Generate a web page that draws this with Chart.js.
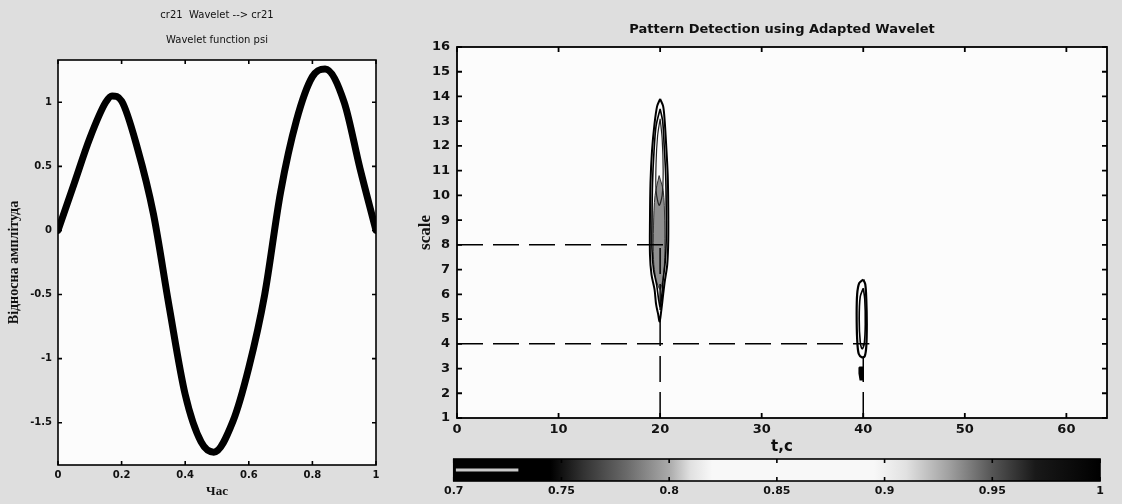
<!DOCTYPE html>
<html>
<head>
<meta charset="utf-8">
<script src="https://cdn.jsdelivr.net/npm/chart.js@4.4.1/dist/chart.umd.min.js"></script>
<style>
  html, body { margin: 0; padding: 0; }
  body { width: 1122px; height: 504px; background: #dedede; position: relative; overflow: hidden; }
  canvas { position: absolute; }
  #wave { left: 0; top: 0; }
  #pattern { left: 410px; top: 0; }
  #cbar { left: 440px; top: 450px; }
</style>
</head>
<body>
<canvas id="wave" width="420" height="504"></canvas>
<canvas id="pattern" width="712" height="460"></canvas>
<canvas id="cbar" width="682" height="54"></canvas>
<script>
// --- left plot: wavelet function psi
const waveTime = [0, 0.05, 0.10, 0.15, 0.17, 0.20, 0.25, 0.30, 0.35, 0.40, 0.45, 0.49,
  0.55, 0.60, 0.65, 0.70, 0.75, 0.80, 0.84, 0.90, 0.95, 1.0];
const waveAmp = [0, 0.36, 0.72, 1.0, 1.05, 1.01, 0.64, 0.13, -0.6, -1.28, -1.65, -1.73,
  -1.49, -1.07, -0.5, 0.3, 0.86, 1.2, 1.26, 1.0, 0.48, 0];
const waveXTicks = [0, 0.2, 0.4, 0.6, 0.8, 1];
const waveYTicks = [-1.5, -1, -0.5, 0, 0.5, 1];

// --- right plot: detected patterns (time, scale)
const markTimes = [20, 40];
const markScales = [8, 4];
const patXTicks = [0, 10, 20, 30, 40, 50, 60];
const patYTicks = [1, 2, 3, 4, 5, 6, 7, 8, 9, 10, 11, 12, 13, 14, 15, 16];

// contour outlines, [t, scale]
const ridge20Outer = [[20.0, 13.9], [20.3, 13.6], [20.45, 13.0], [20.6, 12.0], [20.75, 10.8], [20.8, 9.5],
  [20.8, 8.2], [20.7, 7.2], [20.45, 6.5], [20.3, 6.0], [20.1, 5.3], [19.95, 4.9], [19.8, 5.2], [19.6, 5.6],
  [19.45, 6.2], [19.15, 6.8], [19.0, 7.6], [19.0, 9.0], [19.05, 10.5], [19.2, 11.8], [19.45, 12.9],
  [19.7, 13.6], [20.0, 13.9]];
const ridge20Mid = [[20.0, 13.5], [20.25, 13.0], [20.4, 12.0], [20.55, 10.8], [20.6, 9.5], [20.6, 8.2],
  [20.5, 7.3], [20.3, 6.6], [20.15, 5.9], [20.0, 5.5], [19.85, 5.8], [19.65, 6.4], [19.35, 7.0],
  [19.2, 7.8], [19.2, 9.0], [19.25, 10.5], [19.4, 11.8], [19.6, 12.8], [20.0, 13.5]];
const ridge20Core = [[19.9, 10.8], [20.3, 10.2], [20.45, 9.0], [20.45, 7.5], [20.3, 6.7], [20.0, 6.2],
  [19.6, 6.6], [19.35, 7.4], [19.35, 8.8], [19.5, 10.0], [19.9, 10.8]];
const ridge20Upper = [[20.0, 13.1], [20.2, 12.3], [20.3, 11.0], [20.2, 10.0], [19.9, 9.6], [19.6, 10.2],
  [19.6, 11.3], [19.75, 12.4], [20.0, 13.1]];
const ridge40Outer = [[40.0, 6.6], [40.2, 6.4], [40.3, 5.8], [40.35, 4.8], [40.3, 3.9], [40.15, 3.5],
  [39.9, 3.45], [39.55, 3.6], [39.4, 4.2], [39.35, 5.2], [39.4, 6.0], [39.6, 6.45], [40.0, 6.6]];
const ridge40Inner = [[40.0, 6.25], [40.15, 5.8], [40.2, 4.8], [40.1, 4.0], [39.9, 3.8], [39.7, 4.1],
  [39.6, 5.0], [39.7, 5.9], [40.0, 6.25]];
const ridge40Tail = [[39.6, 3.05], [39.95, 3.05], [39.95, 2.55], [39.7, 2.55], [39.6, 2.8], [39.6, 3.05]];

// --- colorbar
const cbLevels = [0.7, 0.745, 0.76, 0.78, 0.80, 0.81, 0.82, 0.895, 0.91, 0.93, 0.95, 0.97, 1.0];
const cbGray = [0, 0, 50, 105, 170, 225, 248, 248, 225, 160, 85, 25, 0];
const cbTicks = [0.7, 0.75, 0.8, 0.85, 0.9, 0.95, 1];
const cbStripe = [0.701, 0.73];

const SANS = "'DejaVu Sans', sans-serif";
const SERIF = "'Liberation Serif', serif";
Chart.defaults.color = '#111';
Chart.defaults.font.family = SANS;

// white axes box with inward ticks on all four sides, like matlab
const frameTicks = {
  id: 'frameTicks',
  beforeDraw(chart, args, opts) {
    if (!opts.fill) return;
    const { ctx, chartArea: a } = chart;
    ctx.save();
    ctx.fillStyle = opts.fill;
    ctx.fillRect(a.left, a.top, a.width, a.height);
    ctx.restore();
  },
  afterDraw(chart, args, opts) {
    const { ctx, chartArea: a, scales } = chart;
    const len = opts.len;
    ctx.save();
    ctx.strokeStyle = '#000';
    ctx.lineWidth = opts.width;
    ctx.beginPath();
    scales.x.ticks.forEach(t => {
      const px = scales.x.getPixelForValue(t.value);
      ctx.moveTo(px, a.bottom); ctx.lineTo(px, a.bottom - len);
      ctx.moveTo(px, a.top); ctx.lineTo(px, a.top + len);
    });
    if (opts.yTicks) scales.y.ticks.forEach(t => {
      const py = scales.y.getPixelForValue(t.value);
      ctx.moveTo(a.left, py); ctx.lineTo(a.left + len, py);
      ctx.moveTo(a.right, py); ctx.lineTo(a.right - len, py);
    });
    ctx.stroke();
    ctx.strokeRect(a.left, a.top, a.width, a.height);
    ctx.restore();
  }
};

const fixTicks = vals => scale => { scale.ticks = vals.map(v => ({ value: v })); };
const noGrid = { display: false, drawTicks: false };

new Chart(document.getElementById('wave'), {
  type: 'line',
  data: {
    datasets: [{
      data: waveTime.map((t, i) => ({ x: t, y: waveAmp[i] })),
      borderColor: '#000',
      borderWidth: 7,
      pointRadius: 0,
      cubicInterpolationMode: 'monotone',
      borderCapStyle: 'round'
    }]
  },
  plugins: [frameTicks],
  options: {
    responsive: false,
    animation: false,
    layout: { padding: { left: 0, right: 44, top: 0, bottom: 0 } },
    plugins: {
      legend: { display: false },
      tooltip: { enabled: false },
      title: {
        display: true,
        fullSize: false,
        text: ['cr21  Wavelet --> cr21', 'Wavelet function psi'],
        font: { size: 10, weight: 'normal', lineHeight: 2.5 },
        padding: { top: 3, bottom: 7 }
      },
      frameTicks: { fill: '#fcfcfc', len: 4, width: 1.6, yTicks: true }
    },
    scales: {
      x: {
        type: 'linear', min: 0, max: 1,
        afterBuildTicks: fixTicks(waveXTicks),
        afterFit: s => { s.height = 39; },
        grid: noGrid, border: { display: false },
        ticks: { padding: 4, font: { size: 10, weight: 'bold' }, callback: v => String(v) },
        title: { display: true, text: 'Час', font: { family: SERIF, size: 13, weight: 'bold' }, padding: { top: 0, bottom: 5 } }
      },
      y: {
        type: 'linear', min: -1.83, max: 1.33,
        afterBuildTicks: fixTicks(waveYTicks),
        afterFit: s => { s.width = 58; },
        grid: noGrid, border: { display: false },
        ticks: { padding: 6, font: { size: 10, weight: 'bold' }, callback: v => String(v) },
        title: { display: true, text: 'Відносна амплітуда', font: { family: SERIF, size: 14, weight: 'bold' }, padding: { top: 6, bottom: 0 } }
      }
    }
  }
});

const dash = { showLine: true, pointRadius: 0, borderColor: '#000', borderWidth: 1.5, borderDash: [26, 10], fill: false, tension: 0 };
const guideSets = markTimes.flatMap((t, i) => [
  { ...dash, data: [{ x: 0, y: markScales[i] }, { x: t + 0.6, y: markScales[i] }] },
  { ...dash, data: [{ x: t, y: 1 }, { x: t, y: markScales[i] }] }
]);
const contour = (pts, extra) => ({
  data: pts.map(([x, y]) => ({ x, y })),
  showLine: true, pointRadius: 0, borderColor: '#000', borderWidth: 1.4, fill: false, tension: 0.3,
  ...extra
});

new Chart(document.getElementById('pattern'), {
  type: 'scatter',
  data: {
    datasets: [
      ...guideSets,
      contour(ridge20Outer, { borderWidth: 2 }),
      contour(ridge20Mid, { borderWidth: 1.6 }),
      contour(ridge20Upper, { borderColor: '#222', borderWidth: 1.2 }),
      contour(ridge20Core, { fill: 'shape', backgroundColor: 'rgba(70,70,70,0.6)', borderColor: '#333', borderWidth: 1 }),
      contour(ridge40Outer, { borderWidth: 2.2 }),
      contour(ridge40Inner, { borderWidth: 1.6 }),
      contour(ridge40Tail, { fill: 'shape', backgroundColor: '#000', borderWidth: 1.5, tension: 0 })
    ]
  },
  plugins: [frameTicks],
  options: {
    responsive: false,
    animation: false,
    layout: { padding: { left: 0, right: 15, top: 0, bottom: 0 } },
    plugins: {
      legend: { display: false },
      tooltip: { enabled: false },
      title: {
        display: true,
        fullSize: false,
        text: 'Pattern Detection using Adapted Wavelet',
        font: { size: 13, weight: 'bold' },
        padding: { top: 22, bottom: 9.4 }
      },
      frameTicks: { fill: '#fcfcfc', len: 5, width: 1.8, yTicks: true }
    },
    scales: {
      x: {
        type: 'linear', min: 0, max: 64,
        afterBuildTicks: fixTicks(patXTicks),
        afterFit: s => { s.height = 42; },
        grid: noGrid, border: { display: false },
        ticks: { padding: 4, font: { size: 13, weight: 'bold' }, callback: v => String(v) },
        title: { display: true, text: 't,c', font: { size: 15, weight: 'bold' }, padding: { top: 0, bottom: 4 } }
      },
      y: {
        type: 'linear', min: 1, max: 16,
        afterBuildTicks: fixTicks(patYTicks),
        afterFit: s => { s.width = 47; },
        grid: noGrid, border: { display: false },
        ticks: { padding: 7, font: { size: 13, weight: 'bold' }, callback: v => String(v) },
        title: { display: true, text: 'scale', font: { family: SERIF, size: 17, weight: 'bold' }, padding: { top: 5, bottom: 0 } }
      }
    }
  }
});

function cbGradient(ctx) {
  const chart = ctx.chart;
  if (!chart.chartArea) return '#000';
  const sx = chart.scales.x;
  const x0 = sx.getPixelForValue(cbLevels[0]);
  const x1 = sx.getPixelForValue(cbLevels[cbLevels.length - 1]);
  const g = chart.ctx.createLinearGradient(x0, 0, x1, 0);
  cbLevels.forEach((v, i) => {
    const c = cbGray[i];
    g.addColorStop((sx.getPixelForValue(v) - x0) / (x1 - x0), `rgb(${c},${c},${c})`);
  });
  return g;
}

new Chart(document.getElementById('cbar'), {
  type: 'bar',
  data: {
    labels: [''],
    datasets: [
      { data: [cbStripe], backgroundColor: '#c8c8c8', barPercentage: 0.14, categoryPercentage: 1, grouped: false },
      { data: [[cbLevels[0], cbLevels[cbLevels.length - 1]]], backgroundColor: cbGradient, barPercentage: 1, categoryPercentage: 1, grouped: false }
    ]
  },
  plugins: [frameTicks],
  options: {
    indexAxis: 'y',
    responsive: false,
    animation: false,
    layout: { padding: { left: 12, right: 22, top: 9, bottom: 0 } },
    plugins: {
      legend: { display: false },
      tooltip: { enabled: false },
      frameTicks: { fill: null, len: 4, width: 1.6, yTicks: false }
    },
    scales: {
      x: {
        type: 'linear', min: 0.7, max: 1,
        afterBuildTicks: fixTicks(cbTicks),
        afterFit: s => { s.height = 23; },
        grid: noGrid, border: { display: false },
        ticks: { padding: 4, font: { size: 11, weight: 'bold' }, callback: v => String(v) }
      },
      y: { display: false }
    }
  }
});
</script>
</body>
</html>
